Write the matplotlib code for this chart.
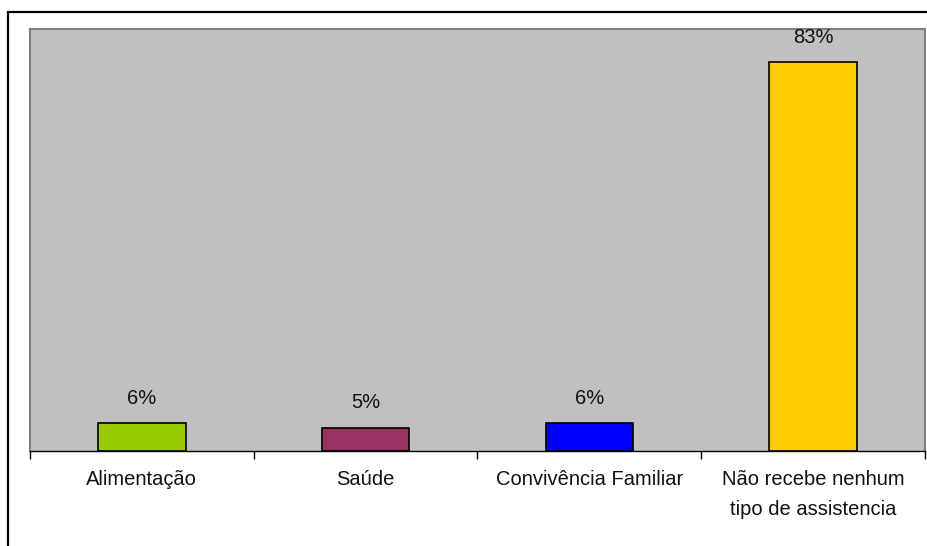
import numpy as np
import matplotlib.pyplot as plt
from matplotlib.patches import Rectangle

plt.rcParams['font.family'] = ['Liberation Sans', 'DejaVu Sans']

categorias = ["Alimentação", "Saúde", "Convivência Familiar", "Não recebe nenhum\ntipo de assistencia"]
valores = [6, 5, 6, 83]
rotulos = ["6%", "5%", "6%", "83%"]
cores = ["#99CC00", "#993366", "#0000FF", "#FFCC00"]

W, H = 928, 546
fig = plt.figure(figsize=(W / 100, H / 100), dpi=100)

# moldura externa (cortada a direita e embaixo)
fig.patches.append(Rectangle((8 / W, -0.05), 1.0, (H - 12) / H + 0.05,
                             transform=fig.transFigure, fill=False,
                             edgecolor="black", linewidth=1.6))

ax = fig.add_axes([30 / W, (H - 451) / H, (925 - 30) / W, (451 - 29) / H])
ax.set_facecolor("#C0C0C0")

x = np.arange(len(categorias))
ax.bar(x, valores, width=0.39, color=cores, edgecolor="black", linewidth=1.2)

for xi, v, r in zip(x, valores, rotulos):
    ax.annotate(r, (xi, v), xytext=(0, 11), textcoords="offset points",
                ha="center", va="bottom", fontsize=14.5, color="#111111")

ax.set_xlim(-0.5, len(categorias) - 0.5)
ax.set_ylim(0, 90)
ax.set_yticks([])

ax.set_xticks(x)
ax.set_xticklabels(categorias, fontsize=14.5, linespacing=1.7, color="#111111")
ax.tick_params(axis="x", which="major", length=0, pad=14)
ax.set_xticks(np.arange(-0.5, len(categorias)), minor=True)
ax.tick_params(axis="x", which="minor", length=6, width=1, color="black")

for lado in ["top", "right", "left"]:
    ax.spines[lado].set_color("#808080")
    ax.spines[lado].set_linewidth(1.5)
ax.spines["bottom"].set_color("black")
ax.spines["bottom"].set_linewidth(1)

fig.savefig("out.png", dpi=100)
